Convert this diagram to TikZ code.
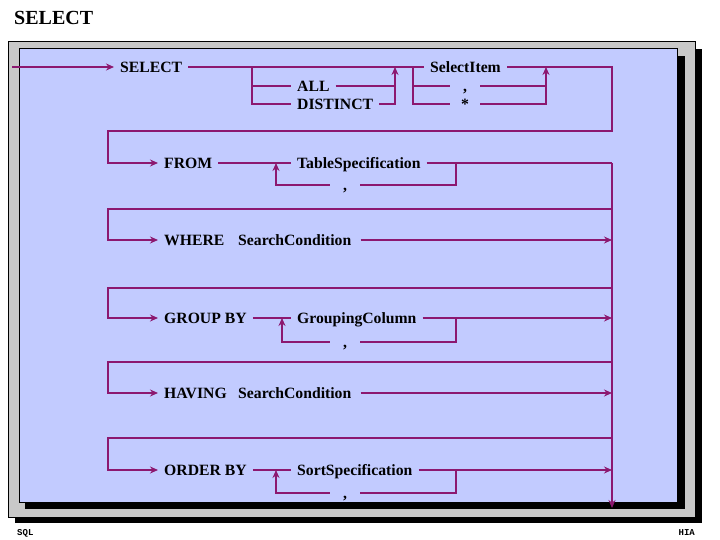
\documentclass[tikz,border=0pt]{standalone}
\usepackage{fontspec}
\setmainfont{Liberation Serif}
\setmonofont{Liberation Mono}
\usetikzlibrary{arrows.meta}
\definecolor{railpurple}{RGB}{140,24,112}
\definecolor{panelblue}{RGB}{194,203,255}
\definecolor{framegray}{RGB}{200,200,200}
\tikzstyle{term} = [anchor=west, inner xsep=6pt, inner ysep=0pt, text height=11pt, text depth=0pt,
                    font=\fontsize{15.7}{18}\selectfont\bfseries]
\tikzstyle{sepchar} = [term, anchor=center, inner xsep=0pt, minimum width=30pt]
\tikzstyle{rail} = [railpurple, line width=2pt]
\tikzstyle{railarrow} = [rail, -{Stealth[length=8pt, width=7pt]}]
\tikzstyle{footer} = [inner sep=0pt, font=\ttfamily\bfseries\fontsize{9}{10}\selectfont]

\begin{document}
\begin{tikzpicture}[x=1pt, y=-1pt]
\useasboundingbox (0,0) rectangle (720,540);

% Frame
\fill[black] (15,49) rectangle (702,523);
\draw[black, fill=framegray, line width=1pt] (8,42) rectangle (695,517);
\fill[black] (25,56) rectangle (685,509);
\draw[black, fill=panelblue, line width=1pt] (19,49) rectangle (677,502);

% Title
\node[anchor=base west, inner sep=0pt, font=\fontsize{20}{24}\selectfont\bfseries] (title) at (14,25) {SELECT};

% Terms
\node[term] (kwsel) at (114,67) {SELECT};
\node[term] (optall) at (291,86) {ALL};
\node[term] (optdist) at (291,104) {DISTINCT};
\node[term] (selitem) at (424,67) {SelectItem};
\node[sepchar] (icomma) at (465,86) {,};
\node[sepchar] (istar) at (465,104) {*};

\node[term] (kwfrom) at (158,163) {FROM};
\node[term] (tabspec) at (291,163) {TableSpecification};
\node[sepchar] (tcomma) at (345,185) {,};

\node[term] (kwwhere) at (158,240) {WHERE};
\node[term, inner xsep=9pt] (cond1) at (229,240) {SearchCondition};

\node[term] (kwgroup) at (158,318) {GROUP BY};
\node[term] (grpcol) at (291,318) {GroupingColumn};
\node[sepchar] (gcomma) at (345,342) {,};

\node[term] (kwhaving) at (158,393) {HAVING};
\node[term, inner xsep=9pt] (cond2) at (229,393) {SearchCondition};

\node[term] (kworder) at (158,470) {ORDER BY};
\node[term] (sortspec) at (291,470) {SortSpecification};
\node[sepchar] (scomma) at (345,493) {,};

% Junctions
\coordinate (start) at (12,67);
\coordinate (optsplit) at (252,67);
\coordinate (optjoin) at (395,67);
\coordinate (itemsplit) at (413,67);
\coordinate (itemjoin) at (546,67);
\coordinate (selback) at (612,131);
\coordinate (fromturn) at (108,131);
\coordinate (trunktop) at (612,163);
\coordinate (trunkend) at (612,508);
\coordinate (tabloopL) at (276,163);
\coordinate (tabloopR) at (456,163);
\coordinate (whereskip) at (612,209);
\coordinate (whereturn) at (108,209);
\coordinate (grploopL) at (282,318);
\coordinate (grploopR) at (456,318);
\coordinate (groupskip) at (612,288);
\coordinate (groupturn) at (108,288);
\coordinate (havingskip) at (612,362);
\coordinate (havingturn) at (108,362);
\coordinate (orderskip) at (612,438);
\coordinate (orderturn) at (108,438);
\coordinate (sortloopL) at (276,470);
\coordinate (sortloopR) at (456,470);

% SELECT row
\draw[railarrow] (start) -- (kwsel.west);
\draw[rail] (kwsel.east) -- (selitem.west);
\draw[rail] (optsplit) |- (optall.west);
\draw[rail] (optsplit) |- (optdist.west);
\draw[rail] (optall.east) -- (optall.east -| optjoin);
\draw[railarrow] (optdist.east) -| (optjoin);
\draw[rail] (itemsplit) |- (icomma.west);
\draw[rail] (itemsplit) |- (istar.west);
\draw[rail] (icomma.east) -- (icomma.east -| itemjoin);
\draw[railarrow] (istar.east) -| (itemjoin);
\draw[railarrow] (selitem.east) -| (selback) -- (fromturn) |- (kwfrom.west);

% FROM row
\draw[rail] (kwfrom.east) -- (tabspec.west);
\draw[rail] (tabspec.east) -- (trunktop);
\draw[rail] (tabloopR) |- (tcomma.east);
\draw[railarrow] (tcomma.west) -| (tabloopL);
\draw[railarrow] (trunktop) -- (trunkend);

% WHERE row
\draw[railarrow] (whereskip) -- (whereturn) |- (kwwhere.west);
\draw[railarrow] (cond1.east) -- (cond1.east -| trunktop);

% GROUP BY row
\draw[railarrow] (groupskip) -- (groupturn) |- (kwgroup.west);
\draw[rail] (kwgroup.east) -- (grpcol.west);
\draw[railarrow] (grpcol.east) -- (grpcol.east -| trunktop);
\draw[rail] (grploopR) |- (gcomma.east);
\draw[railarrow] (gcomma.west) -| (grploopL);

% HAVING row
\draw[railarrow] (havingskip) -- (havingturn) |- (kwhaving.west);
\draw[railarrow] (cond2.east) -- (cond2.east -| trunktop);

% ORDER BY row
\draw[railarrow] (orderskip) -- (orderturn) |- (kworder.west);
\draw[rail] (kworder.east) -- (sortspec.west);
\draw[railarrow] (sortspec.east) -- (sortspec.east -| trunktop);
\draw[rail] (sortloopR) |- (scomma.east);
\draw[railarrow] (scomma.west) -| (sortloopL);

% Footer
\node[footer, anchor=west] (footl) at (17,533) {SQL};
\node[footer, anchor=east] (footr) at (695,533) {HIA};

\end{tikzpicture}
\end{document}
